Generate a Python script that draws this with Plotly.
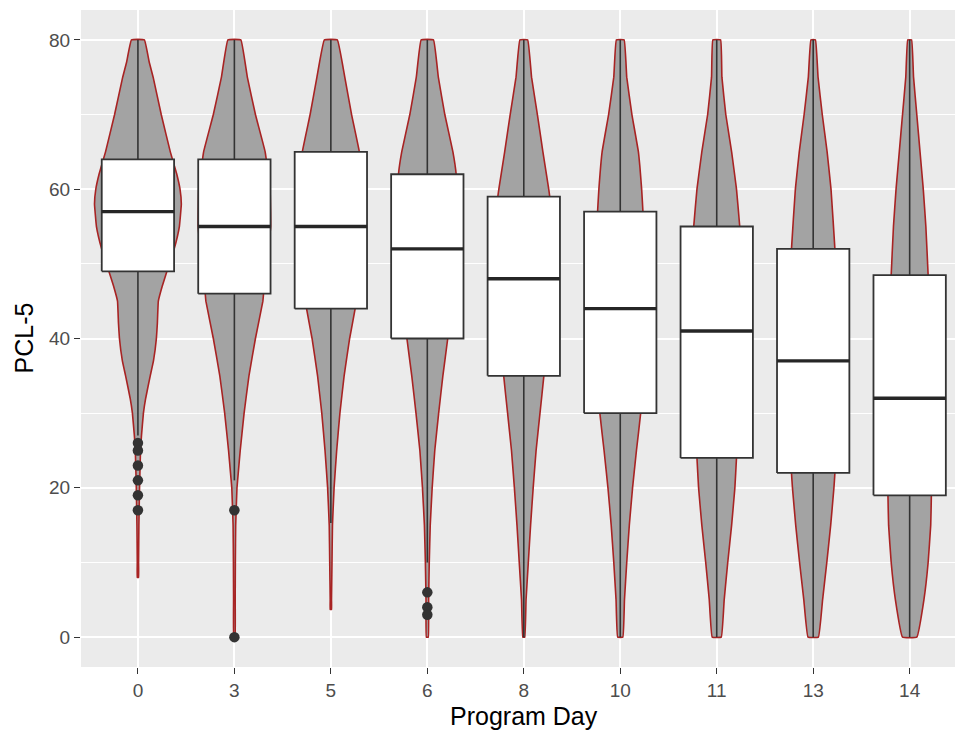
import plotly.graph_objects as go

days = ["0", "3", "5", "6", "8", "10", "11", "13", "14"]

# box statistics (PCL-5)
q1 = [49, 46, 44, 40, 35, 30, 24, 22, 19]
median = [57, 55, 55, 52, 48, 44, 41, 37, 32]
q3 = [64, 64, 65, 62, 59, 57, 55, 52, 48.5]
lower_whisker = [27, 21, 15.3, 10, 0, 0, 0, 0, 0]
upper_whisker = [80, 80, 80, 80, 80, 80, 80, 80, 80]

# outliers
outlier_day = ["0", "0", "0", "0", "0", "0", "3", "3", "6", "6", "6"]
outlier_val = [26, 25, 23, 21, 19, 17, 17, 0, 6, 4, 3]

# violin outlines: score levels and relative density width at each level
violin_y = {
    "0": [80, 77, 75, 70, 65, 62, 60, 58, 55, 52, 50, 47, 45, 42, 40, 37, 35, 32, 30, 27, 25, 20, 15, 10, 8],
    "3": [80, 75, 70, 65, 60, 55, 50, 46, 45, 40, 35, 30, 25, 22, 20, 15, 10, 5, 0],
    "5": [80, 75, 70, 65, 60, 55, 50, 44, 40, 35, 30, 25, 20, 15, 10, 5, 3.7],
    "6": [80, 75, 70, 65, 62, 60, 55, 50, 45, 40, 35, 30, 25, 20, 15, 10, 5, 0],
    "8": [80, 75, 70, 65, 60, 59, 55, 50, 45, 40, 35, 30, 25, 20, 15, 10, 5, 0],
    "10": [80, 75, 70, 65, 60, 57, 50, 45, 40, 35, 30, 25, 20, 15, 10, 5, 0],
    "11": [80, 75, 70, 65, 60, 55, 50, 45, 40, 35, 30, 24, 20, 15, 10, 5, 0],
    "13": [80, 75, 70, 65, 60, 52, 45, 40, 35, 30, 22, 20, 15, 10, 5, 0],
    "14": [80, 75, 70, 65, 60, 55, 48.5, 40, 30, 19, 15, 10, 5, 0],
}
violin_w = {
    "0": [20, 35, 47, 72, 100, 120, 130, 134, 128, 112, 97, 75, 63, 60, 57, 48, 38, 24, 17, 11, 8, 5, 3, 2, 2],
    "3": [20, 40, 65, 95, 110, 112, 100, 90, 88, 65, 45, 30, 18, 12, 8, 4, 3, 2.5, 2],
    "5": [20, 43, 64, 88, 98, 100, 92, 75, 58, 41, 28, 18, 10, 5, 3.5, 2, 2],
    "6": [19, 34, 54, 79, 89, 90, 88, 82, 72, 63, 48, 35, 23, 15, 9, 6, 4, 3],
    "8": [12, 24, 42, 59, 77, 80, 82, 80, 74, 68, 62, 50, 38, 29, 21, 14, 7, 3],
    "10": [12, 20, 36, 56, 66, 70, 74, 74, 72, 68, 63, 50, 38, 28, 20, 13, 8],
    "11": [12, 16, 28, 46, 61, 71, 75, 76, 75, 72, 67, 61, 56, 46, 34, 23, 14],
    "13": [7, 15, 28, 43, 55, 67, 72, 73, 73, 71, 67, 64, 54, 42, 29, 16],
    "14": [6, 12, 22, 32, 42, 50, 57, 62, 66, 67, 65, 57, 44, 22],
}

VIOLIN_HALF_MAX = 0.45
BOX_WIDTH = 0.75
max_w = max(max(v) for v in violin_w.values())
xpos = list(range(len(days)))

fig = go.Figure()

# violins
for i, d in enumerate(days):
    ys = violin_y[d]
    hw = [w / max_w * VIOLIN_HALF_MAX for w in violin_w[d]]
    xs = [i + h for h in hw] + [i - h for h in reversed(hw)]
    yy = ys + list(reversed(ys))
    fig.add_trace(go.Scatter(
        x=xs + [xs[0]], y=yy + [yy[0]], mode="lines", fill="toself",
        fillcolor="#A3A3A3", line=dict(color="#A82323", width=1.6, shape="spline", smoothing=0.25),
        hoverinfo="skip", showlegend=False))

# whiskers
wx, wy = [], []
for i in xpos:
    wx += [i, i, None, i, i, None]
    wy += [q3[i], upper_whisker[i], None, q1[i], lower_whisker[i], None]
fig.add_trace(go.Scatter(x=wx, y=wy, mode="lines", line=dict(color="#333333", width=1.6),
                         showlegend=False, hoverinfo="skip"))

# boxes
bx, by = [], []
h = BOX_WIDTH / 2
for i in xpos:
    bx += [i - h, i + h, i + h, i - h, i - h, None]
    by += [q1[i], q1[i], q3[i], q3[i], q1[i], None]
fig.add_trace(go.Scatter(x=bx, y=by, mode="lines", fill="toself", fillcolor="white",
                         line=dict(color="#333333", width=1.8), showlegend=False, hoverinfo="skip"))

# medians
mx, my = [], []
for i, m in enumerate(median):
    mx += [i - h, i + h, None]
    my += [m, m, None]
fig.add_trace(go.Scatter(x=mx, y=my, mode="lines", line=dict(color="#262626", width=3.4),
                         showlegend=False, hoverinfo="skip"))

# outliers
fig.add_trace(go.Scatter(
    x=[days.index(d) for d in outlier_day], y=outlier_val, mode="markers",
    marker=dict(color="#333333", size=10.5), showlegend=False, hoverinfo="skip"))

tick_font = dict(family="Liberation Sans, Arial, sans-serif", size=19, color="#4D4D4D")
title_font = dict(family="Liberation Sans, Arial, sans-serif", size=25, color="#000000")

fig.update_layout(
    width=955, height=730,
    margin=dict(l=81, r=0, t=10, b=63),
    paper_bgcolor="white", plot_bgcolor="#EBEBEB",
    xaxis=dict(range=[-0.59, 8.47], tickvals=xpos, ticktext=days, showgrid=True,
               gridcolor="white", gridwidth=1.6, zeroline=False, ticks="outside",
               ticklen=6, tickwidth=1.3, tickcolor="#333333", tickfont=tick_font,
               showline=False, automargin=False),
    yaxis=dict(range=[-4, 84], tick0=0, dtick=20, showgrid=True, gridcolor="white",
               gridwidth=1.6, zeroline=False, ticks="outside", ticklen=6, tickwidth=1.3,
               tickcolor="#333333", tickfont=tick_font, showline=False, automargin=False,
               minor=dict(dtick=10, tick0=0, showgrid=True, gridcolor="white", gridwidth=0.8)),
    annotations=[
        dict(text="PCL-5", xref="paper", yref="paper", x=0, y=0.5, xshift=-58,
             xanchor="center", yanchor="middle", textangle=-90, showarrow=False, font=title_font),
        dict(text="Program Day", xref="x", yref="paper", x=4, y=0, yshift=-49,
             xanchor="center", yanchor="middle", showarrow=False, font=title_font),
    ],
)

fig.write_html("out.html", config={"displayModeBar": False},
               post_script="document.body.style.margin='0';document.body.style.overflow='hidden';")
